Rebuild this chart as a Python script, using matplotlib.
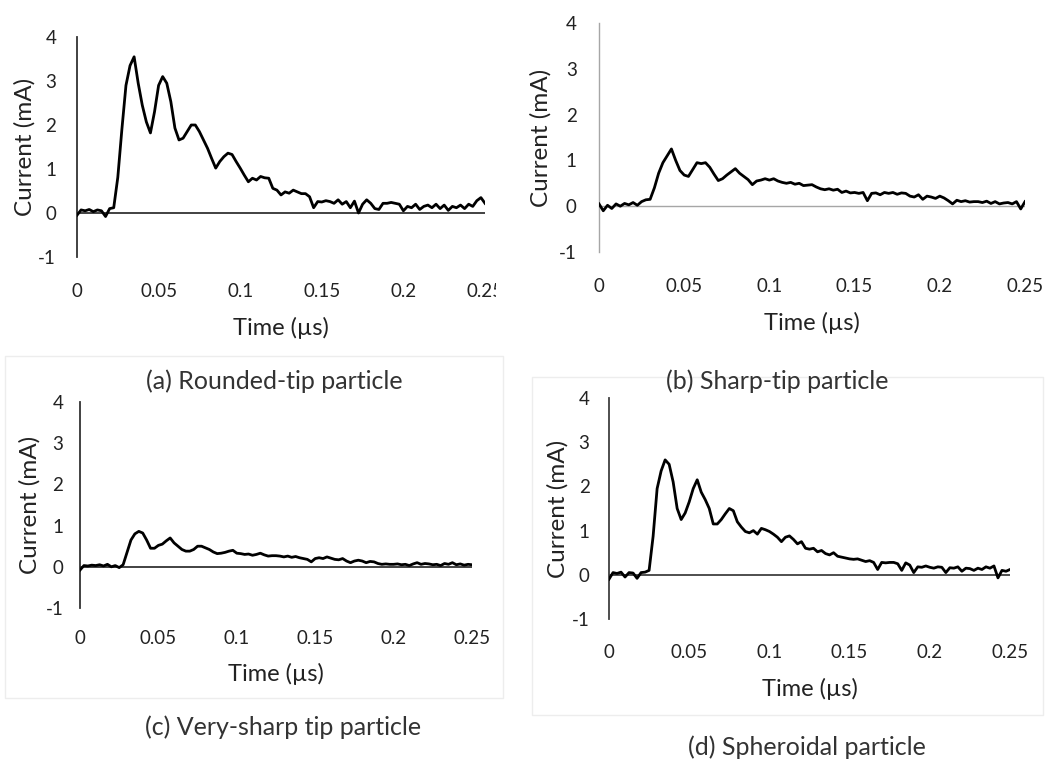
import numpy as np
import matplotlib.pyplot as plt
from matplotlib.patches import Rectangle

# time axis (us), one sample every 0.0025 us
time_us = np.round(np.arange(101) * 0.0025, 4)

# current (mA)
rounded_tip = [
    -0.05, 0.07, 0.05, 0.08, 0.03, 0.07, 0.05, -0.08, 0.10, 0.12,
    0.81, 1.90, 2.90, 3.35, 3.55, 2.95, 2.45, 2.07, 1.82, 2.30,
    2.90, 3.10, 2.95, 2.53, 1.93, 1.66, 1.70, 1.85, 2.00, 2.00,
    1.85, 1.66, 1.47, 1.24, 1.02, 1.17, 1.28, 1.36, 1.33, 1.17,
    1.02, 0.86, 0.71, 0.79, 0.75, 0.83, 0.80, 0.79, 0.56, 0.52,
    0.41, 0.48, 0.45, 0.52, 0.48, 0.44, 0.44, 0.37, 0.12, 0.26,
    0.25, 0.28, 0.26, 0.22, 0.30, 0.20, 0.26, 0.12, 0.27, 0.00,
    0.20, 0.30, 0.22, 0.10, 0.08, 0.22, 0.22, 0.24, 0.22, 0.20,
    0.05, 0.15, 0.12, 0.20, 0.08, 0.15, 0.18, 0.12, 0.20, 0.10,
    0.18, 0.06, 0.15, 0.12, 0.18, 0.10, 0.20, 0.15, 0.28, 0.35,
    0.22,
]
sharp_tip = [
    0.05, -0.10, 0.02, -0.05, 0.05, 0.00, 0.06, 0.03, 0.08, 0.02,
    0.10, 0.14, 0.15, 0.40, 0.72, 0.95, 1.10, 1.25, 1.00, 0.78,
    0.68, 0.65, 0.80, 0.95, 0.93, 0.95, 0.85, 0.70, 0.56, 0.60,
    0.68, 0.75, 0.82, 0.72, 0.65, 0.58, 0.47, 0.55, 0.57, 0.60,
    0.57, 0.60, 0.55, 0.52, 0.50, 0.52, 0.48, 0.50, 0.45, 0.46,
    0.47, 0.42, 0.38, 0.36, 0.38, 0.35, 0.37, 0.30, 0.33, 0.29,
    0.30, 0.28, 0.30, 0.12, 0.28, 0.29, 0.25, 0.30, 0.28, 0.30,
    0.26, 0.29, 0.28, 0.22, 0.20, 0.25, 0.15, 0.22, 0.20, 0.17,
    0.22, 0.18, 0.12, 0.05, 0.13, 0.10, 0.12, 0.09, 0.10, 0.10,
    0.08, 0.11, 0.06, 0.10, 0.05, 0.07, 0.08, 0.05, 0.10, -0.06,
    0.10,
]
very_sharp_tip = [
    -0.08, 0.03, 0.02, 0.04, 0.03, 0.05, 0.02, 0.06, 0.00, 0.03,
    -0.02, 0.05, 0.35, 0.65, 0.80, 0.86, 0.82, 0.65, 0.45, 0.45,
    0.52, 0.55, 0.63, 0.70, 0.58, 0.50, 0.42, 0.38, 0.38, 0.42,
    0.50, 0.50, 0.46, 0.42, 0.36, 0.32, 0.33, 0.35, 0.38, 0.40,
    0.33, 0.32, 0.30, 0.31, 0.28, 0.30, 0.33, 0.29, 0.26, 0.27,
    0.27, 0.26, 0.24, 0.26, 0.23, 0.25, 0.22, 0.20, 0.18, 0.12,
    0.20, 0.22, 0.20, 0.24, 0.21, 0.18, 0.17, 0.20, 0.14, 0.10,
    0.14, 0.16, 0.14, 0.10, 0.13, 0.12, 0.08, 0.06, 0.07, 0.06,
    0.06, 0.07, 0.05, 0.06, 0.03, 0.07, 0.10, 0.06, 0.08, 0.07,
    0.05, 0.06, 0.03, 0.08, 0.06, 0.10, 0.05, 0.07, 0.04, 0.06,
    0.05,
]
spheroidal = [
    -0.10, 0.05, 0.03, 0.06, -0.05, 0.05, 0.04, -0.08, 0.05, 0.06,
    0.10, 0.87, 1.95, 2.35, 2.60, 2.50, 2.10, 1.50, 1.25, 1.40,
    1.65, 1.95, 2.15, 1.87, 1.70, 1.50, 1.15, 1.15, 1.25, 1.38,
    1.50, 1.45, 1.20, 1.08, 0.98, 0.95, 1.00, 0.92, 1.05, 1.02,
    0.98, 0.92, 0.85, 0.75, 0.85, 0.88, 0.80, 0.70, 0.75, 0.60,
    0.58, 0.60, 0.52, 0.55, 0.48, 0.45, 0.50, 0.42, 0.40, 0.38,
    0.36, 0.35, 0.36, 0.33, 0.30, 0.32, 0.28, 0.12, 0.28, 0.27,
    0.28, 0.28, 0.25, 0.10, 0.27, 0.22, 0.05, 0.18, 0.17, 0.20,
    0.17, 0.15, 0.18, 0.17, 0.05, 0.16, 0.15, 0.18, 0.08, 0.15,
    0.14, 0.10, 0.15, 0.12, 0.18, 0.15, 0.20, -0.07, 0.10, 0.08,
    0.12,
]

x_ticks = [0, 0.05, 0.1, 0.15, 0.2, 0.25]
x_ticklabels = ["0", "0.05", "0.1", "0.15", "0.2", "0.25"]
y_ticks = [-1, 0, 1, 2, 3, 4]
y_ticklabels = ["-1", "0", "1", "2", "3", "4"]
captions = ["(a) Rounded-tip particle", "(b) Sharp-tip particle",
            "(c) Very-sharp tip particle", "(d) Spheroidal particle"]

W, H = 1062, 762
plt.rcParams["font.family"] = ["Lato", "DejaVu Sans"]
fig = plt.figure(figsize=(W / 100, H / 100), dpi=100)


def fx(px):
    return px / W


def fy(py):
    return 1 - py / H


# faint chart-area frames of the lower two panels
for (l, t, r, b) in [(5, 356, 503, 698), (532, 377, 1043, 715)]:
    fig.add_artist(Rectangle((fx(l), fy(b)), fx(r - l), (b - t) / H,
                             fill=False, ec="#ededed", lw=1, zorder=0))

# panel boxes in pixels: x(0), x(0.25), y(4), y(-1)
panels = [
    dict(data=rounded_tip, box=(77, 485, 37, 257), axc="#333333", alw=1.3,
         xlab_y=328, ylab_x=25, ypad=15, xpad=19, cap=(274, 381)),
    dict(data=sharp_tip, box=(599, 1025, 23, 252), axc="#a6a6a6", alw=1.0,
         xlab_y=323, ylab_x=541, ypad=16, xpad=19, cap=(777, 381)),
    dict(data=very_sharp_tip, box=(80, 472, 402, 608), axc="#333333", alw=1.3,
         xlab_y=674, ylab_x=30, ypad=12, xpad=16, cap=(283, 727)),
    dict(data=spheroidal, box=(609, 1010, 398, 619), axc="#404040", alw=1.3,
         xlab_y=689, ylab_x=558, ypad=14, xpad=18, cap=(807, 747)),
]

for p, cap in zip(panels, captions):
    x0, x1, yt, yb = p["box"]
    ax = fig.add_axes([fx(x0), fy(yb), fx(x1 - x0), (yb - yt) / H])
    ax.plot(time_us, p["data"], color="black", lw=2.0, zorder=3)
    ax.axhline(0, color=p["axc"], lw=p["alw"], zorder=2)
    ax.set_xlim(0, 0.25)
    ax.set_ylim(-1, 4)
    for s in ["top", "right", "bottom"]:
        ax.spines[s].set_visible(False)
    ax.spines["left"].set_color(p["axc"])
    ax.spines["left"].set_linewidth(p["alw"])
    ax.set_xticks(x_ticks)
    ax.set_xticklabels(x_ticklabels)
    ax.set_yticks(y_ticks)
    ax.set_yticklabels(y_ticklabels)
    ax.tick_params(axis="x", length=0, pad=p["xpad"], labelsize=13.5, labelcolor="#222222")
    ax.tick_params(axis="y", length=0, pad=p["ypad"], labelsize=13.5, labelcolor="#222222")
    ax.patch.set_alpha(0)
    fig.text(fx((x0 + x1) / 2), fy(p["xlab_y"]), "Time (µs)", ha="center", va="center",
             fontsize=17, color="#222222")
    fig.text(fx(p["ylab_x"]), fy((yt + yb) / 2), "Current (mA)", ha="center", va="center",
             rotation=90, fontsize=17.5, color="#222222")
    fig.text(fx(p["cap"][0]), fy(p["cap"][1]), cap, ha="center", va="center",
             fontsize=18, color="#333333")

# the first panel's last tick label is cut off in the source figure
fig.add_artist(Rectangle((fx(496), fy(312)), fx(34), 40 / H, fc="white", ec="none", zorder=10))

fig.savefig("out.png", dpi=100)
